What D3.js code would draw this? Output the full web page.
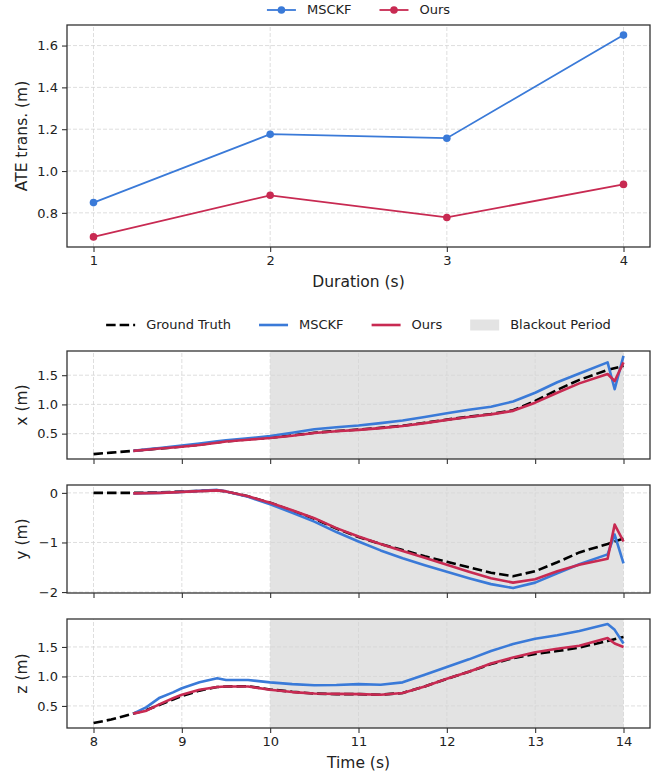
<!DOCTYPE html>
<html>
<head>
<meta charset="utf-8">
<script src="https://cdn.jsdelivr.net/npm/d3@7"></script>
<style>
  body { margin: 0; background: #fff; }
  svg { font-family: "DejaVu Sans", sans-serif; }
</style>
</head>
<body>
<div id="chart"></div>
<script>
// ---- top chart data: ATE vs blackout duration
var durations = [1, 2, 3, 4];
var ate_msckf = [0.849, 1.176, 1.157, 1.650];
var ate_ours = [0.685, 0.884, 0.778, 0.936];

// ---- trajectory data (seconds)
var time_gt = [8.0, 8.2, 8.45, 8.6, 8.75, 8.9, 9.0, 9.2, 9.4, 9.5, 9.75, 10.0, 10.25, 10.5, 10.75,
  11.0, 11.25, 11.5, 11.75, 12.0, 12.25, 12.5, 12.75, 13.0, 13.25, 13.5, 13.82, 14.0];
var time_est = [8.45, 8.6, 8.75, 8.9, 9.0, 9.2, 9.4, 9.5, 9.75, 10.0, 10.25, 10.5, 10.75,
  11.0, 11.25, 11.5, 11.75, 12.0, 12.25, 12.5, 12.75, 13.0, 13.25, 13.5, 13.82, 13.9, 14.0];

var x_gt = [0.15, 0.175, 0.205, 0.225, 0.245, 0.265, 0.28, 0.31, 0.35, 0.37, 0.40, 0.43, 0.47, 0.515, 0.545,
  0.57, 0.60, 0.635, 0.685, 0.74, 0.79, 0.835, 0.90, 1.06, 1.25, 1.42, 1.59, 1.66];
var x_msckf = [0.205, 0.23, 0.255, 0.28, 0.295, 0.33, 0.37, 0.385, 0.42, 0.46, 0.515, 0.575, 0.61,
  0.64, 0.68, 0.725, 0.785, 0.85, 0.91, 0.96, 1.05, 1.20, 1.38, 1.53, 1.72, 1.26, 1.83];
var x_ours = [0.205, 0.225, 0.245, 0.262, 0.275, 0.305, 0.345, 0.365, 0.395, 0.425, 0.465, 0.51, 0.54,
  0.565, 0.595, 0.63, 0.68, 0.735, 0.785, 0.83, 0.89, 1.03, 1.20, 1.36, 1.52, 1.40, 1.72];

var y_gt = [0, 0, 0, 0.005, 0.01, 0.02, 0.025, 0.04, 0.05, 0.03, -0.07, -0.2, -0.36, -0.52, -0.72,
  -0.89, -1.03, -1.15, -1.28, -1.39, -1.50, -1.61, -1.68, -1.58, -1.40, -1.20, -1.03, -0.92];
var y_msckf = [-0.01, -0.005, 0.0, 0.01, 0.02, 0.04, 0.06, 0.03, -0.08, -0.23, -0.40, -0.58, -0.79,
  -0.98, -1.16, -1.32, -1.46, -1.59, -1.72, -1.84, -1.92, -1.81, -1.62, -1.44, -1.24, -0.84, -1.42];
var y_ours = [-0.01, -0.005, 0.0, 0.01, 0.02, 0.035, 0.05, 0.03, -0.07, -0.2, -0.35, -0.51, -0.71,
  -0.88, -1.03, -1.17, -1.31, -1.45, -1.59, -1.72, -1.81, -1.74, -1.58, -1.45, -1.33, -0.64, -0.98];

var z_gt = [0.21, 0.27, 0.37, 0.43, 0.52, 0.61, 0.67, 0.76, 0.82, 0.83, 0.835, 0.78, 0.74, 0.71, 0.70,
  0.70, 0.69, 0.72, 0.83, 0.96, 1.08, 1.21, 1.31, 1.38, 1.43, 1.49, 1.60, 1.67];
var z_msckf = [0.37, 0.48, 0.64, 0.73, 0.80, 0.90, 0.97, 0.94, 0.94, 0.90, 0.87, 0.85, 0.855,
  0.87, 0.86, 0.90, 1.03, 1.16, 1.29, 1.43, 1.55, 1.64, 1.70, 1.77, 1.89, 1.79, 1.56];
var z_ours = [0.37, 0.42, 0.53, 0.63, 0.69, 0.775, 0.82, 0.83, 0.83, 0.775, 0.735, 0.71, 0.705,
  0.70, 0.69, 0.72, 0.83, 0.96, 1.08, 1.22, 1.32, 1.41, 1.47, 1.52, 1.65, 1.56, 1.50];

var blackout = [10, 14];
var time_ticks = [8, 9, 10, 11, 12, 13, 14];

var COL_MSCKF = '#3a7ad8';
var COL_OURS = '#c82a52';
var GRID = '#d6d6d6';
var SPINE = '#333';

var width = 662, height = 777;
var left = 67, right = 650;

var svg = d3.select('#chart').append('svg')
  .attr('width', width)
  .attr('height', height);

// matplotlib style 5% padding
function padded(vals) {
  var lo = d3.min(vals), hi = d3.max(vals), m = (hi - lo) * 0.05;
  return [lo - m, hi + m];
}

function fmtTick(d, digits) {
  return d3.format('.' + digits + 'f')(d).replace('-', '\u2212');
}

// grid + ticks for one axes
function axesFrame(g, x, y, xt, yt, ydig, showXLabels, xdig) {
  var x0 = x.range()[0], x1 = x.range()[1];
  var y0 = y.range()[0], y1 = y.range()[1];

  var grid = g.append('g');
  xt.forEach(function(t) {
    grid.append('line')
      .attr('x1', x(t)).attr('x2', x(t))
      .attr('y1', y0).attr('y2', y1)
      .attr('stroke', GRID).attr('stroke-width', 0.8)
      .attr('stroke-dasharray', '4,2');
  });
  yt.forEach(function(t) {
    grid.append('line')
      .attr('x1', x0).attr('x2', x1)
      .attr('y1', y(t)).attr('y2', y(t))
      .attr('stroke', GRID).attr('stroke-width', 0.8)
      .attr('stroke-dasharray', '4,2');
  });

  var ax = g.append('g')
    .attr('transform', 'translate(0,' + y0 + ')')
    .call(d3.axisBottom(x).tickValues(xt).tickSize(5).tickPadding(4)
      .tickFormat(showXLabels ? function(d) { return fmtTick(d, xdig); } : ''));
  var ay = g.append('g')
    .attr('transform', 'translate(' + x0 + ',0)')
    .call(d3.axisLeft(y).tickValues(yt).tickSize(5).tickPadding(4)
      .tickFormat(function(d) { return fmtTick(d, ydig); }));
  [ax, ay].forEach(function(a) {
    a.select('.domain').remove();
    a.selectAll('line').attr('stroke', SPINE).attr('stroke-width', 1.1);
    a.selectAll('text').attr('font-size', 13).attr('fill', '#222')
      .attr('font-family', '"DejaVu Sans", sans-serif');
  });
}

function frameRect(g, x, y) {
  g.append('rect')
    .attr('x', x.range()[0]).attr('y', y.range()[1])
    .attr('width', x.range()[1] - x.range()[0])
    .attr('height', y.range()[0] - y.range()[1])
    .attr('fill', 'none').attr('stroke', SPINE).attr('stroke-width', 1.3);
}

function yLabel(text, cy) {
  svg.append('text')
    .attr('transform', 'translate(22,' + cy + ') rotate(-90)')
    .attr('text-anchor', 'middle')
    .attr('dominant-baseline', 'middle')
    .attr('font-size', 15.5).attr('fill', '#222')
    .text(text);
}

function xLabel(text, cy) {
  svg.append('text')
    .attr('x', (left + right) / 2).attr('y', cy)
    .attr('text-anchor', 'middle')
    .attr('dominant-baseline', 'middle')
    .attr('font-size', 15.5).attr('fill', '#222')
    .text(text);
}

// ================= top chart =================
var top_x = d3.scaleLinear().domain(padded(durations)).range([left, right]);
var top_y = d3.scaleLinear().domain(padded(ate_msckf.concat(ate_ours))).range([247, 25]);
var top_g = svg.append('g');
axesFrame(top_g, top_x, top_y, durations, [0.8, 1.0, 1.2, 1.4, 1.6], 1, true, 0);

var ate_line = d3.line()
  .x(function(d) { return top_x(d[0]); })
  .y(function(d) { return top_y(d[1]); });

[[ate_msckf, COL_MSCKF], [ate_ours, COL_OURS]].forEach(function(s) {
  var pts = d3.zip(durations, s[0]);
  top_g.append('path')
    .attr('d', ate_line(pts))
    .attr('fill', 'none').attr('stroke', s[1]).attr('stroke-width', 1.8);
  top_g.selectAll(null).data(pts).enter().append('circle')
    .attr('cx', function(d) { return top_x(d[0]); })
    .attr('cy', function(d) { return top_y(d[1]); })
    .attr('r', 3.8).attr('fill', s[1]);
});
frameRect(top_g, top_x, top_y);
yLabel('ATE trans. (m)', 136);
xLabel('Duration (s)', 282);

// legend helper: items laid out centered on the axes
function legend(items, cy) {
  var lg = svg.append('g');
  var xpos = 0;
  items.forEach(function(it) {
    var g = lg.append('g');
    var hx = xpos;
    if (it.kind === 'patch') {
      g.append('rect').attr('x', hx).attr('y', cy - 5.5).attr('width', 29).attr('height', 11)
        .attr('fill', '#e3e3e3');
    } else {
      g.append('line').attr('x1', hx).attr('x2', hx + 29).attr('y1', cy).attr('y2', cy)
        .attr('stroke', it.color).attr('stroke-width', it.lw)
        .attr('stroke-dasharray', it.dash || null);
      if (it.marker) {
        g.append('circle').attr('cx', hx + 14.5).attr('cy', cy).attr('r', 3.8).attr('fill', it.color);
      }
    }
    var t = g.append('text').attr('x', hx + 40).attr('y', cy)
      .attr('dominant-baseline', 'middle')
      .attr('font-size', 13).attr('fill', '#222')
      .text(it.label);
    xpos = hx + 40 + t.node().getComputedTextLength() + 28;
  });
  var total = xpos - 28;
  lg.attr('transform', 'translate(' + ((left + right) / 2 - total / 2) + ',0)');
}

legend([
  {label: 'MSCKF', color: COL_MSCKF, lw: 1.8, marker: true},
  {label: 'Ours', color: COL_OURS, lw: 1.8, marker: true}
], 10);

legend([
  {label: 'Ground Truth', color: '#000', lw: 2.6, dash: '9.5,4'},
  {label: 'MSCKF', color: COL_MSCKF, lw: 2.6},
  {label: 'Ours', color: COL_OURS, lw: 2.6},
  {label: 'Blackout Period', kind: 'patch'}
], 325);

// ================= trajectory subplots =================
var panels = [
  {label: 'x (m)', gt: x_gt, msckf: x_msckf, ours: x_ours, ticks: [0.5, 1.0, 1.5], dig: 1, top: 351, bottom: 459},
  {label: 'y (m)', gt: y_gt, msckf: y_msckf, ours: y_ours, ticks: [-2, -1, 0], dig: 0, top: 485, bottom: 593},
  {label: 'z (m)', gt: z_gt, msckf: z_msckf, ours: z_ours, ticks: [0.5, 1.0, 1.5], dig: 1, top: 619, bottom: 728}
];

var time_x = d3.scaleLinear().domain(padded(time_gt)).range([left, right]);

panels.forEach(function(p, i) {
  var y = d3.scaleLinear()
    .domain(padded(p.gt.concat(p.msckf, p.ours)))
    .range([p.bottom, p.top]);
  var g = svg.append('g');

  g.append('rect')
    .attr('x', time_x(blackout[0])).attr('y', p.top)
    .attr('width', time_x(blackout[1]) - time_x(blackout[0]))
    .attr('height', p.bottom - p.top)
    .attr('fill', '#e3e3e3');

  axesFrame(g, time_x, y, time_ticks, p.ticks, p.dig, i === panels.length - 1, 0);

  var line = d3.line()
    .x(function(d) { return time_x(d[0]); })
    .y(function(d) { return y(d[1]); });

  // ground truth below, estimates on top
  g.append('path').attr('d', line(d3.zip(time_gt, p.gt)))
    .attr('fill', 'none').attr('stroke', '#000').attr('stroke-width', 2.6)
    .attr('stroke-dasharray', '9.5,4');
  g.append('path').attr('d', line(d3.zip(time_est, p.msckf)))
    .attr('fill', 'none').attr('stroke', COL_MSCKF).attr('stroke-width', 2.6)
    .attr('stroke-linejoin', 'round');
  g.append('path').attr('d', line(d3.zip(time_est, p.ours)))
    .attr('fill', 'none').attr('stroke', COL_OURS).attr('stroke-width', 2.6)
    .attr('stroke-linejoin', 'round');

  frameRect(g, time_x, y);
  yLabel(p.label, (p.top + p.bottom) / 2);
});

xLabel('Time (s)', 763);
</script>
</body>
</html>
